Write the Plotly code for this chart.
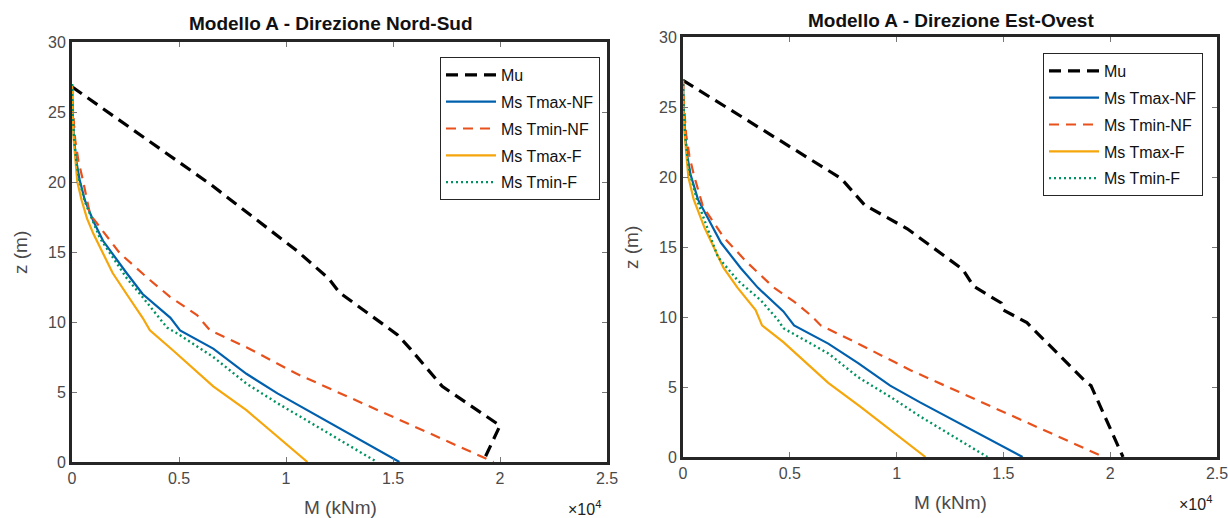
import plotly.graph_objects as go

# ---------------- DATA (M in kNm, z in m) ----------------
# Left: Modello A - Direzione Nord-Sud
ns_mu_M = [0, 6500, 10500, 12000, 12500, 15200, 15800, 17300, 20000, 19200]
ns_mu_z = [26.8, 19.8, 15.1, 13.1, 12.1, 9.1, 8.1, 5.4, 2.6, 0]

ns_tmaxnf_M = [0, 30, 100, 200, 350, 600, 1000, 1450, 2550, 3300, 4600, 5050, 6600, 8150, 9600, 11100, 15300]
ns_tmaxnf_z = [27, 25, 23, 21.5, 20.2, 18.7, 17.2, 15.8, 13.5, 12.0, 10.3, 9.4, 8.1, 6.3, 4.9, 3.6, 0]

ns_tminnf_M = [0, 50, 150, 300, 500, 840, 1440, 2240, 3640, 4580, 5840, 6450, 8150, 10500, 19700]
ns_tminnf_z = [27, 25, 23, 21.5, 20.2, 17.7, 16.5, 14.9, 13.0, 11.8, 10.5, 9.4, 8.2, 6.3, 0]

ns_tmaxf_M = [0, 20, 80, 150, 250, 450, 700, 1000, 1900, 2550, 3300, 3640, 4700, 6600, 8150, 11000]
ns_tmaxf_z = [27, 25, 23, 21.5, 20.0, 18.7, 17.4, 16.3, 13.5, 12.0, 10.3, 9.4, 8.0, 5.4, 3.7, 0]

ns_tminf_M = [0, 30, 100, 200, 330, 600, 1300, 2570, 3180, 4440, 4900, 6600, 8150, 9600, 11100, 14250]
ns_tminf_z = [27, 25, 23, 21.5, 20.2, 18.6, 16.0, 13.1, 12.0, 9.6, 9.2, 7.5, 5.6, 4.2, 2.85, 0]

# Right: Modello A - Direzione Est-Ovest
eo_mu_M = [0, 7400, 8500, 10500, 13100, 13600, 14900, 15000, 16100, 18900, 19100, 20600]
eo_mu_z = [26.9, 19.9, 18.0, 16.3, 13.4, 12.2, 11.0, 10.5, 9.6, 5.3, 5.1, 0]

eo_tmaxnf_M = [0, 30, 100, 200, 350, 700, 1780, 2700, 3500, 4700, 5200, 6800, 8200, 9700, 11100, 15900]
eo_tmaxnf_z = [27, 25, 23, 21.5, 20.2, 18.4, 15.3, 13.5, 12.1, 10.4, 9.4, 8.1, 6.7, 5.1, 3.9, 0]

eo_tminnf_M = [0, 50, 150, 300, 500, 930, 1900, 3000, 4250, 5200, 6000, 6450, 8200, 10650, 19700]
eo_tminnf_z = [27, 25, 23, 21.5, 20.2, 17.9, 15.7, 13.9, 12.1, 11.1, 10.1, 9.4, 8.1, 6.2, 0]

eo_tmaxf_M = [0, 20, 80, 150, 250, 500, 1000, 1900, 2550, 3400, 3700, 4700, 6800, 8300, 11100, 11350]
eo_tmaxf_z = [27, 25, 23, 21.5, 20.0, 18.4, 16.4, 13.5, 12.1, 10.5, 9.4, 8.2, 5.3, 3.6, 0.3, 0]

eo_tminf_M = [0, 30, 100, 200, 330, 650, 1630, 2570, 3640, 4440, 4700, 6800, 8200, 9700, 11100, 14250]
eo_tminf_z = [27, 25, 23, 21.5, 20.2, 18.4, 14.3, 12.6, 11.2, 9.8, 9.2, 7.4, 5.7, 4.3, 2.9, 0]

series_names = ["Mu", "Ms Tmax-NF", "Ms Tmin-NF", "Ms Tmax-F", "Ms Tmin-F"]
x_tick_vals = [0, 5000, 10000, 15000, 20000, 25000]
x_tick_text = ["0", "0.5", "1", "1.5", "2", "2.5"]
y_tick_vals = [0, 5, 10, 15, 20, 25, 30]
titles = ["Modello A - Direzione Nord-Sud", "Modello A - Direzione Est-Ovest"]

# ---------------- STYLE ----------------
styles = [
    dict(color="#000000", width=3.2, dash="12px,7px"),
    dict(color="#0060AD", width=2.2, dash="solid"),
    dict(color="#E8501C", width=2.2, dash="10px,7px"),
    dict(color="#F5A60A", width=2.2, dash="solid"),
    dict(color="#00935F", width=2.4, dash="2px,3px"),
]
FONT = "Liberation Sans, Arial, sans-serif"
GRAY = "#4a4a4a"

fig = go.Figure()

left = [(ns_mu_M, ns_mu_z), (ns_tmaxnf_M, ns_tmaxnf_z), (ns_tminnf_M, ns_tminnf_z),
        (ns_tmaxf_M, ns_tmaxf_z), (ns_tminf_M, ns_tminf_z)]
right = [(eo_mu_M, eo_mu_z), (eo_tmaxnf_M, eo_tmaxnf_z), (eo_tminnf_M, eo_tminnf_z),
         (eo_tmaxf_M, eo_tmaxf_z), (eo_tminf_M, eo_tminf_z)]

for i, (m, z) in enumerate(left):
    fig.add_trace(go.Scatter(x=m, y=z, mode="lines", name=series_names[i],
                             line=styles[i], xaxis="x", yaxis="y", legend="legend",
                             legendgroup="L%d" % i))
for i, (m, z) in enumerate(right):
    fig.add_trace(go.Scatter(x=m, y=z, mode="lines", name=series_names[i],
                             line=styles[i], xaxis="x2", yaxis="y2", legend="legend2",
                             legendgroup="R%d" % i))

W, H = 1228, 518
def px(x):
    return x / W
def py(y):
    return (H - y) / H

axis_common = dict(showline=True, linewidth=3, linecolor="#262626", mirror="ticks",
                   ticks="inside", ticklen=5, tickwidth=1, tickcolor="#777777",
                   showgrid=False, zeroline=False, automargin=False,
                   ticklabeloverflow="allow",
                   tickfont=dict(family=FONT, size=16, color=GRAY))

legend_common = dict(xanchor="left", yanchor="top", bgcolor="white",
                     bordercolor="#262626", borderwidth=1,
                     font=dict(family=FONT, size=16, color="#111111"),
                     itemwidth=50, tracegroupgap=3)

fig.update_layout(
    width=W, height=H,
    margin=dict(l=0, r=0, t=0, b=0, pad=0, autoexpand=False),
    paper_bgcolor="white", plot_bgcolor="white",
    xaxis=dict(domain=[px(72), px(607)], range=[0, 25000], tickvals=x_tick_vals,
               ticktext=x_tick_text, anchor="y", **axis_common),
    yaxis=dict(domain=[py(462), py(42)], range=[0, 30], tickvals=y_tick_vals,
               anchor="x", **axis_common),
    xaxis2=dict(domain=[px(683), px(1217)], range=[0, 25000], tickvals=x_tick_vals,
                ticktext=x_tick_text, anchor="y2", **axis_common),
    yaxis2=dict(domain=[py(457), py(37)], range=[0, 30], tickvals=y_tick_vals,
                anchor="x2", **axis_common),
    legend=dict(x=px(440), y=py(57), **legend_common),
    legend2=dict(x=px(1043), y=py(53), **legend_common),
    showlegend=True,
)

ann = []
# titles
ann.append(dict(x=px(331), y=py(23), text="<b>" + titles[0] + "</b>"))
ann.append(dict(x=px(951), y=py(20), text="<b>" + titles[1] + "</b>"))
for a in ann:
    a.update(xref="paper", yref="paper", showarrow=False, xanchor="center", yanchor="middle",
             font=dict(family=FONT, size=19, color="#111111"))
labels = [
    dict(x=px(340), y=py(507), text="M (kNm)"),
    dict(x=px(950), y=py(502), text="M (kNm)"),
    dict(x=px(20), y=py(253), text="z (m)", textangle=-90),
    dict(x=px(631), y=py(248), text="z (m)", textangle=-90),
]
for a in labels:
    a.update(xref="paper", yref="paper", showarrow=False, xanchor="center", yanchor="middle",
             font=dict(family=FONT, size=19, color=GRAY))
exps = [
    dict(x=px(584), y=py(508), text="×10<sup>4</sup>"),
    dict(x=px(1195), y=py(503), text="×10<sup>4</sup>"),
]
for a in exps:
    a.update(xref="paper", yref="paper", showarrow=False, xanchor="center", yanchor="middle",
             font=dict(family=FONT, size=16, color="#222222"))
fig.update_layout(annotations=ann + labels + exps)

fig.write_html("out.html", config={"displayModeBar": False},
               post_script="document.body.style.margin='0';document.body.style.overflow='hidden';")
